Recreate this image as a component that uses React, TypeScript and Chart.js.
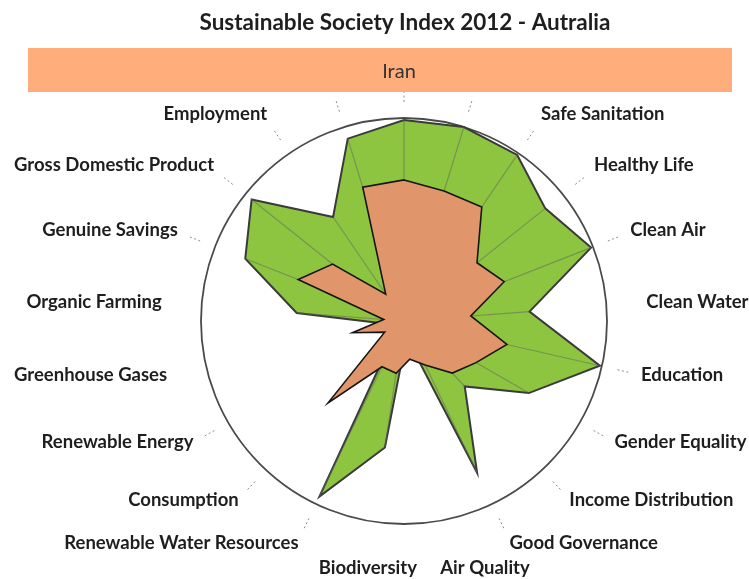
import React, { useEffect, useRef } from 'react';
import { Chart, registerables } from 'chart.js';

Chart.register(...registerables);

const TITLE = 'Sustainable Society Index 2012 - Autralia';
const SERIES_NAMES = ['Iran', 'Australia'];

const indicators = [
  '', '', 'Safe Sanitation', 'Healthy Life', 'Clean Air', 'Clean Water', 'Education',
  'Gender Equality', 'Income Distribution', 'Good Governance', 'Air Quality', 'Biodiversity',
  'Renewable Water Resources', 'Consumption', 'Renewable Energy', 'Greenhouse Gases',
  'Organic Farming', 'Genuine Savings', 'Gross Domestic Product', 'Employment', '',
];

const australia = [9.9, 10, 9.9, 8.9, 9.9, 6.2, 9.9, 7.1, 4.4, 8.3, 0.8, 6.3, 9.6, 0.5, 0.6, 0.7, 5.3, 8.4, 9.6, 6.2, 9.4];
const iran = [6.95, 6.7, 6.8, 4.6, 5.3, 3.3, 5.2, 4.1, 3.5, 2.4, 1.9, 2.6, 2.5, 5.5, 1.1, 2.6, 1.0, 5.6, 4.5, 1.6, 6.9];

const SCALE_MIN = 0;
const SCALE_MAX = 10;

const LEADER_MARKS = [0, 1, 2, 3, 4, 6, 7, 8, 9, 12, 13, 14, 17, 18, 19, 20];

const overlayPlugin = {
  id: 'ssiOverlay',
  afterDatasetDraw(chart: any, args: any) {
    if (args.index !== 1) return;
    const s = chart.scales.r;
    const ctx = chart.ctx;
    const values = chart.data.datasets[1].data as number[];
    ctx.save();
    ctx.strokeStyle = 'rgba(95,100,95,0.5)';
    ctx.lineWidth = 1.2;
    values.forEach((v, i) => {
      const p = s.getPointPositionForValue(i, v);
      ctx.beginPath();
      ctx.moveTo(s.xCenter, s.yCenter);
      ctx.lineTo(p.x, p.y);
      ctx.stroke();
    });
    ctx.restore();
  },
  afterDraw(chart: any) {
    const s = chart.scales.r;
    const ctx = chart.ctx;
    const labels = chart.data.labels as string[];
    const n = labels.length;
    ctx.save();
    // leader marks
    ctx.strokeStyle = '#8a8a8a';
    ctx.lineWidth = 1;
    ctx.setLineDash([2, 2.5]);
    LEADER_MARKS.forEach((i) => {
      const a = s.getPointPosition(i, s.drawingArea + 16);
      const b = s.getPointPosition(i, s.drawingArea + 28);
      ctx.beginPath();
      ctx.moveTo(a.x, a.y);
      ctx.lineTo(b.x, b.y);
      ctx.stroke();
    });
    ctx.setLineDash([]);
    // point labels on a slightly elliptical ring
    ctx.fillStyle = '#1e1e1e';
    ctx.font = '700 18.5px Lato, "Open Sans", sans-serif';
    ctx.textBaseline = 'middle';
    labels.forEach((lab, i) => {
      if (!lab) return;
      const deg = (i * 360) / n;
      const th = (deg * Math.PI) / 180;
      const c = Math.cos(th);
      const rx = s.drawingArea + 40;
      const ry = c >= 0 ? s.drawingArea + 47 : s.drawingArea + 38 + 9 * Math.pow(Math.abs(c), 4);
      const x = s.xCenter + rx * Math.sin(th);
      const y = s.yCenter - ry * c;
      let align: CanvasTextAlign = 'right';
      if (deg === 0 || deg === 180) align = 'center';
      else if (deg < 180) align = 'left';
      else if (deg < 200) align = 'center';
      ctx.textAlign = align;
      ctx.fillText(lab, x, y);
    });
    // banner with series name
    ctx.fillStyle = '#FFAD7B';
    ctx.fillRect(28, 48, 704, 44);
    ctx.fillStyle = '#333';
    ctx.font = '400 20px Lato, "Open Sans", sans-serif';
    ctx.textAlign = 'center';
    ctx.fillText(chart.data.datasets[0].label, s.xCenter - 5, 72);
    // title
    ctx.fillStyle = '#1e1e1e';
    ctx.font = '700 22.5px Lato, "Open Sans", sans-serif';
    ctx.fillText(TITLE, s.xCenter + 1, 23);
    ctx.restore();
  },
};

export default function App() {
  const ref = useRef<HTMLCanvasElement>(null);
  useEffect(() => {
    if (!ref.current) return;
    const chart = new Chart(ref.current, {
      type: 'radar',
      data: {
        labels: indicators,
        datasets: [
          {
            label: SERIES_NAMES[0],
            data: iran,
            backgroundColor: '#E0956B',
            borderColor: '#151515',
            borderWidth: 1.6,
            pointRadius: 0,
            fill: true,
          },
          {
            label: SERIES_NAMES[1],
            data: australia,
            backgroundColor: '#8DC540',
            borderColor: '#3a3a3a',
            borderWidth: 2,
            pointRadius: 0,
            fill: true,
          },
        ],
      },
      options: {
        responsive: false,
        animation: false,
        layout: { padding: { left: 201, right: 142, top: 118, bottom: 55 } },
        elements: { line: { tension: 0 } },
        plugins: { legend: { display: false }, title: { display: false }, tooltip: { enabled: false } },
        scales: {
          r: {
            min: SCALE_MIN,
            max: SCALE_MAX,
            ticks: { display: false, stepSize: 10 },
            angleLines: { display: false },
            grid: { circular: true, color: '#4a4a4a', lineWidth: 1.8 },
            pointLabels: { display: false },
          },
        },
      },
      plugins: [overlayPlugin],
    });
    return () => chart.destroy();
  }, []);
  return (
    <div style={{ position: 'absolute', left: 0, top: 0, width: 749, height: 579, background: '#fff' }}>
      <canvas ref={ref} width={749} height={579} style={{ display: 'block' }} />
    </div>
  );
}
